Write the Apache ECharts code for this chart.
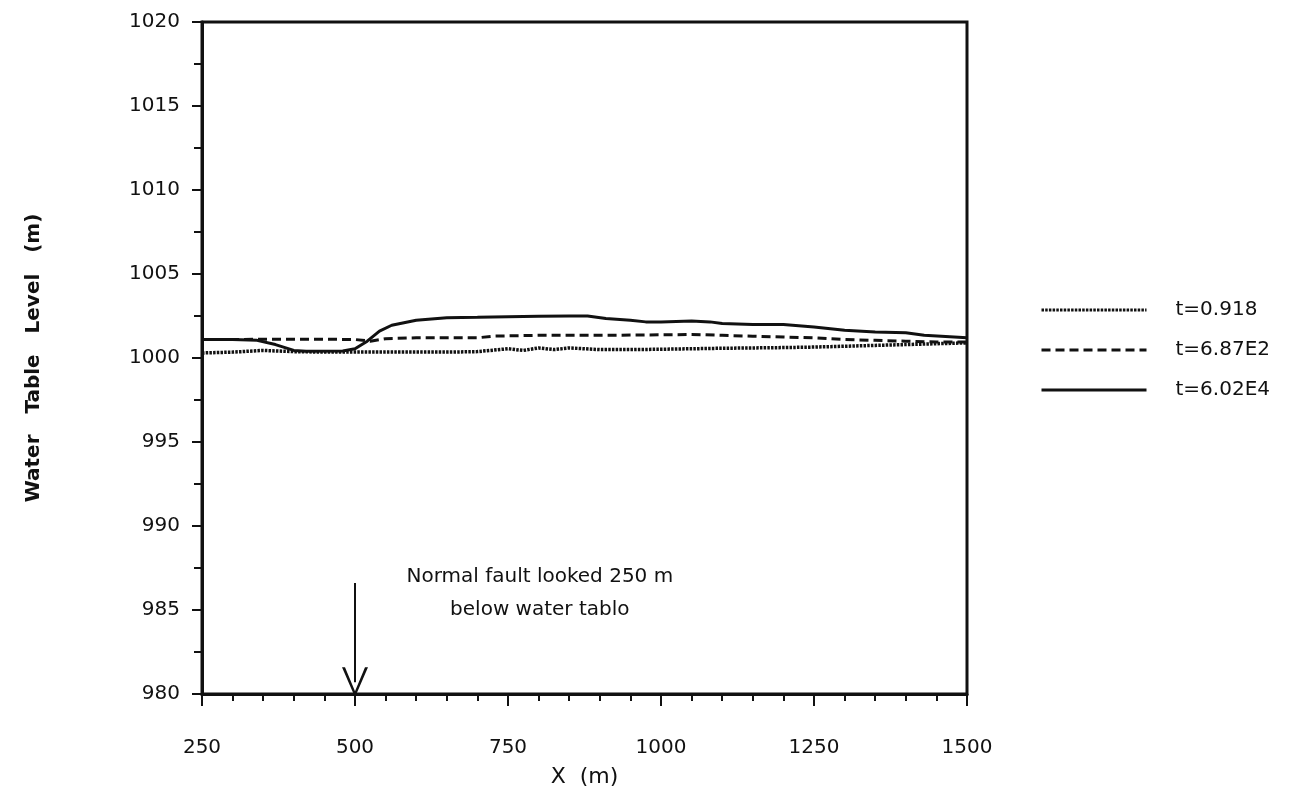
<!DOCTYPE html>
<html>
<head>
<meta charset="utf-8">
<script src="https://cdn.jsdelivr.net/npm/echarts@6/dist/echarts.min.js"></script>
<style>
html,body{margin:0;padding:0;background:#fff;}
#c{width:1293px;height:801px;}
</style>
</head>
<body>
<div id="c"></div>
<script>
// ---- data ----
const seriesNames = ['t=0.918', 't=6.87E2', 't=6.02E4'];

const x1 = [250,300,350,400,450,500,550,600,650,700,750,775,800,825,850,900,950,1000,1050,1100,1150,1200,1250,1300,1350,1400,1450,1500];
const y1 = [1000.3,1000.35,1000.45,1000.38,1000.35,1000.35,1000.35,1000.35,1000.35,1000.38,1000.55,1000.45,1000.6,1000.5,1000.6,1000.5,1000.5,1000.52,1000.55,1000.58,1000.6,1000.62,1000.65,1000.7,1000.75,1000.8,1000.85,1000.9];

const x2 = [250,300,350,400,450,500,525,550,600,650,700,725,800,900,1000,1050,1100,1150,1200,1250,1300,1350,1400,1450,1500];
const y2 = [1001.1,1001.1,1001.12,1001.12,1001.12,1001.1,1001.0,1001.15,1001.2,1001.2,1001.2,1001.3,1001.35,1001.35,1001.38,1001.4,1001.35,1001.3,1001.25,1001.2,1001.1,1001.05,1001.0,1000.95,1000.95];

const x3 = [250,300,340,370,400,420,480,500,520,540,560,580,600,650,700,750,800,850,880,910,950,975,1000,1050,1080,1100,1150,1200,1250,1300,1350,1400,1430,1500];
const y3 = [1001.1,1001.1,1001.05,1000.8,1000.45,1000.4,1000.42,1000.55,1001.0,1001.6,1001.95,1002.1,1002.25,1002.4,1002.42,1002.45,1002.48,1002.5,1002.5,1002.35,1002.25,1002.15,1002.15,1002.2,1002.15,1002.05,1002.0,1002.0,1001.85,1001.65,1001.55,1001.5,1001.35,1001.2];

const xTicks = [250, 500, 750, 1000, 1250, 1500];
const yTicks = [980, 985, 990, 995, 1000, 1005, 1010, 1015, 1020];

const arrowFrom = [500, 986.6];
const arrowTo = [500, 980.7];
const noteText = 'Normal fault looked 250 m\nbelow water tablo';
const notePos = [802, 986.0];
// --------------------------------------

const zip = (xs, ys) => xs.map((x, i) => [x, ys[i]]);
const chart = echarts.init(document.getElementById('c'), null, {renderer: 'canvas'});
const FONT = 'DejaVu Sans';
const ink = '#111';

const vPath = 'path://M0,30 L13,0 L26,30 L23,30 L13,6 L3,30 Z';

chart.setOption({
  animation: false,
  backgroundColor: '#fff',
  grid: {left: 202, right: 326, top: 22, bottom: 107, containLabel: false,
         show: true, borderColor: ink, borderWidth: 3, backgroundColor: 'transparent'},
  legend: {
    orient: 'vertical', left: 1035, top: 295, itemWidth: 105, itemHeight: 14, itemGap: 20,
    data: seriesNames,
    itemStyle: {opacity: 0},
    lineStyle: {width: 3},
    textStyle: {fontFamily: FONT, fontSize: 20, color: ink, padding: [0, 0, 0, 24]}
  },
  xAxis: {
    type: 'value', min: xTicks[0], max: xTicks[xTicks.length-1], interval: 250,
    axisLine: {show: true, lineStyle: {color: ink, width: 3}},
    axisTick: {show: true, inside: false, length: 12, lineStyle: {color: ink, width: 2}},
    minorTick: {show: true, splitNumber: 5, length: 7, lineStyle: {color: ink, width: 2}},
    splitLine: {show: false},
    axisLabel: {fontFamily: FONT, fontSize: 20, color: ink, margin: 44, formatter: v => String(v)},
    name: 'X  (m)', nameLocation: 'middle', nameGap: 72,
    nameTextStyle: {fontFamily: FONT, fontSize: 22, color: ink}
  },
  yAxis: {
    type: 'value', min: yTicks[0], max: yTicks[yTicks.length-1], interval: 5,
    axisLine: {show: true, lineStyle: {color: ink, width: 3}},
    axisTick: {show: true, inside: false, length: 10, lineStyle: {color: ink, width: 2}},
    minorTick: {show: true, splitNumber: 2, length: 8, lineStyle: {color: ink, width: 2}},
    splitLine: {show: false},
    axisLabel: {fontFamily: FONT, fontSize: 20, color: ink, margin: 22, formatter: v => String(v)},
    name: 'Water   Table   Level   (m)', nameLocation: 'middle', nameGap: 158, nameRotate: 90,
    nameTextStyle: {fontFamily: FONT, fontSize: 20, fontWeight: 'bold', color: ink}
  },
  series: [
    {name: seriesNames[0], type: 'line', data: zip(x1, y1), symbol: 'none', smooth: false,
     lineStyle: {color: ink, width: 3.5, type: [2.5, 1.2]}, itemStyle: {color: ink}},
    {name: seriesNames[1], type: 'line', data: zip(x2, y2), symbol: 'none',
     lineStyle: {color: ink, width: 3, type: [9, 5]}, itemStyle: {color: ink}},
    {name: seriesNames[2], type: 'line', data: zip(x3, y3), symbol: 'none',
     lineStyle: {color: ink, width: 3, type: 'solid'}, itemStyle: {color: ink},
     markLine: {
       silent: true, animation: false,
       symbol: ['none', vPath], symbolSize: [26, 30],
       label: {show: false},
       lineStyle: {color: ink, width: 2, type: 'solid'},
       data: [[{coord: arrowFrom}, {coord: arrowTo}]]
     }}
  ]
});

const p = chart.convertToPixel({gridIndex: 0}, notePos);
chart.setOption({
  graphic: [{
    type: 'text', x: p[0], y: p[1], silent: true,
    style: {text: noteText, fontFamily: FONT, fontSize: 20, fill: ink,
            align: 'center', verticalAlign: 'middle', lineHeight: 33}
  }]
});
</script>
</body>
</html>
